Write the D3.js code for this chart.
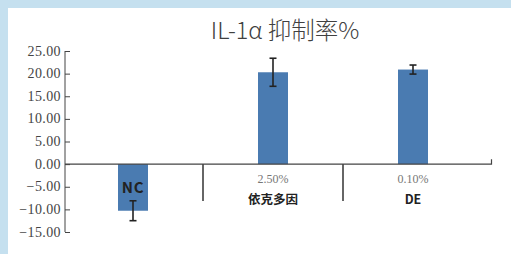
<!DOCTYPE html>
<html>
<head>
<meta charset="utf-8">
<script src="https://cdn.jsdelivr.net/npm/d3@7"></script>
<style>
  body { margin: 0; background: #c5e0ef; }
  #chart { width: 511px; height: 254px; }
</style>
</head>
<body>
<div id="chart"></div>
<script>
// ---- Data ----
const categories = ["NC", "依克多因", "DE"];
const concLabels = ["", "2.50%", "0.10%"];
const values = [-10.3, 20.3, 20.9];
const errors = [2.2, 3.1, 1.0];
const yTicks = [25, 20, 15, 10, 5, 0, -5, -10, -15];

const width = 511, height = 254;

const svg = d3.select("#chart")
  .append("svg")
  .attr("width", width)
  .attr("height", height);

// white panel over the blue page
svg.append("rect")
  .attr("x", 8).attr("y", 8)
  .attr("width", width - 8).attr("height", height - 8)
  .attr("fill", "#fff");

svg.append("text")
  .attr("x", 285).attr("y", 39)
  .attr("text-anchor", "middle")
  .attr("font-family", "'Noto Sans CJK SC', 'Noto Sans', sans-serif")
  .attr("font-weight", 300)
  .attr("font-size", 23.5)
  .attr("fill", "#404040")
  .text("IL-1α 抑制率%");

const x = d3.scaleBand()
  .domain(categories)
  .range([63, 483]);

const y = d3.scaleLinear()
  .domain([-15, 25])
  .range([232, 51]);

const axisColor = "#444";

// ---- Y axis ----
const yAxis = svg.append("g")
  .attr("transform", "translate(65,0)")
  .call(d3.axisRight(y).tickValues(yTicks).tickSize(5).tickFormat(() => ""));
yAxis.select(".domain").attr("stroke", axisColor).attr("d", `M0,${y(25)}V${y(-15)}`);
yAxis.selectAll(".tick line").attr("stroke", axisColor);

svg.append("g")
  .selectAll("text")
  .data(yTicks)
  .enter()
  .append("text")
  .attr("x", 61)
  .attr("y", d => y(d) + 4.5)
  .attr("text-anchor", "end")
  .attr("font-family", "'Liberation Serif', serif")
  .attr("font-size", 14)
  .attr("letter-spacing", 0.4)
  .attr("fill", "#444")
  .text(d => d3.format(".2f")(d));

// ---- Bars ----
const barW = 30;
svg.append("g")
  .selectAll("rect")
  .data(categories)
  .enter()
  .append("rect")
  .attr("x", d => x(d) + x.bandwidth() / 2 - barW / 2)
  .attr("width", barW)
  .attr("y", (d, i) => y(Math.max(0, values[i])))
  .attr("height", (d, i) => Math.abs(y(values[i]) - y(0)))
  .attr("fill", "#4a7bb1");

// ---- X axis ----
const x0 = y(0);
svg.append("path")
  .attr("d", `M65,${x0}H491.5V${x0 - 5}`)
  .attr("fill", "none")
  .attr("stroke", axisColor)
  .attr("stroke-width", 1.2);

// category separators
svg.append("g")
  .selectAll("line")
  .data(categories.slice(1))
  .enter()
  .append("line")
  .attr("x1", d => x(d)).attr("x2", d => x(d))
  .attr("y1", x0).attr("y2", 201)
  .attr("stroke", "#333")
  .attr("stroke-width", 1.5);

// ---- Error bars ----
const eb = svg.append("g").attr("stroke", "#222").attr("stroke-width", 1.6);
categories.forEach((c, i) => {
  const cx = x(c) + x.bandwidth() / 2;
  const top = y(values[i] + errors[i]);
  const bot = y(values[i] - errors[i]);
  eb.append("line").attr("x1", cx).attr("x2", cx).attr("y1", top).attr("y2", bot);
  eb.append("line").attr("x1", cx - 3.5).attr("x2", cx + 3.5).attr("y1", top).attr("y2", top);
  eb.append("line").attr("x1", cx - 3.5).attr("x2", cx + 3.5).attr("y1", bot).attr("y2", bot);
});

// ---- Category labels ----
const cx = c => x(c) + x.bandwidth() / 2;

svg.append("g")
  .selectAll("text")
  .data(categories.slice(1))
  .enter()
  .append("text")
  .attr("x", d => cx(d))
  .attr("y", 183)
  .attr("text-anchor", "middle")
  .attr("font-family", "'Liberation Serif', serif")
  .attr("font-size", 12)
  .attr("fill", "#777")
  .text((d, i) => concLabels[i + 1]);

svg.append("g")
  .selectAll("text")
  .data(categories.slice(1))
  .enter()
  .append("text")
  .attr("x", d => cx(d))
  .attr("y", 204)
  .attr("text-anchor", "middle")
  .attr("font-family", "'Noto Sans CJK SC', 'Noto Sans', sans-serif")
  .attr("font-weight", 700)
  .attr("font-size", 12.5)
  .attr("fill", "#222")
  .text(d => d);

svg.append("text")
  .attr("x", cx(categories[0]))
  .attr("y", 193)
  .attr("text-anchor", "middle")
  .attr("font-family", "'Noto Sans CJK SC', 'Noto Sans', sans-serif")
  .attr("font-weight", 700)
  .attr("font-size", 15)
  .attr("letter-spacing", 0.8)
  .attr("fill", "#222")
  .text(categories[0]);
</script>
</body>
</html>
